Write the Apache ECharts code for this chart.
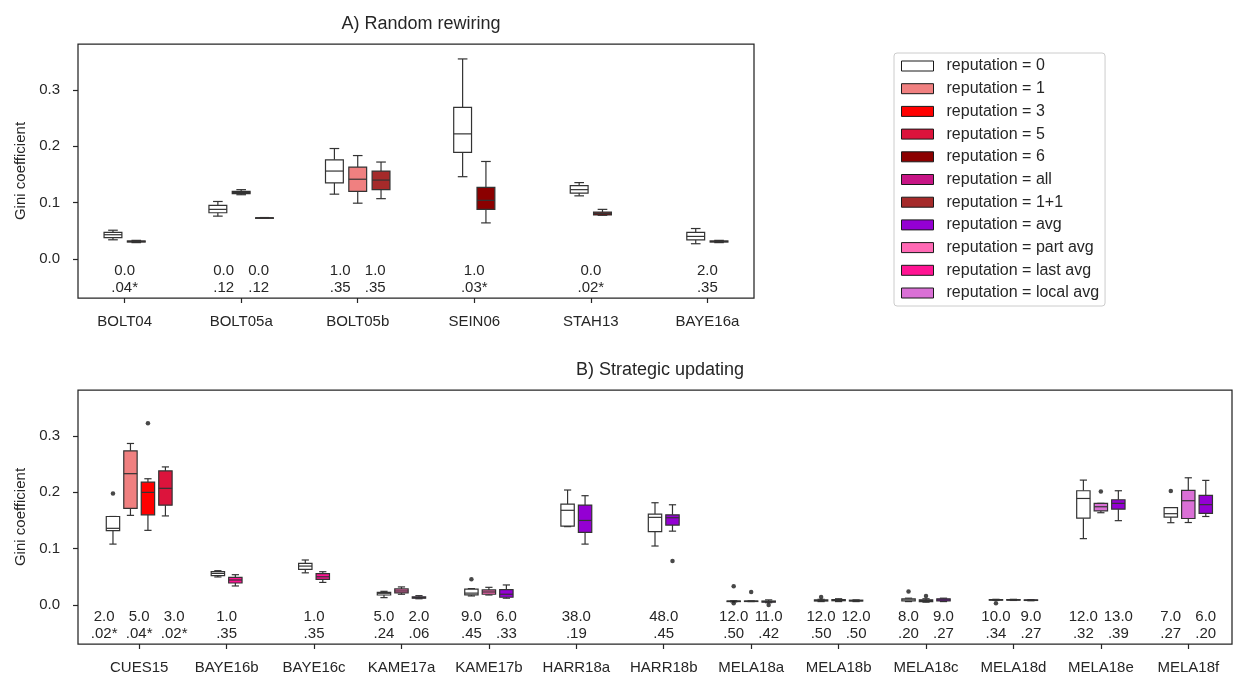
<!DOCTYPE html>
<html>
<head>
<meta charset="utf-8">
<script src="https://cdn.jsdelivr.net/npm/echarts@6/dist/echarts.min.js"></script>
<style>
html,body{margin:0;padding:0;background:#fff;}
#chart{width:1234px;height:675px;}
</style>
</head>
<body>
<div id="chart"></div>
<script>
// ---------------- DATA ----------------
const topCategories = ['BOLT04','BOLT05a','BOLT05b','SEIN06','STAH13','BAYE16a'];
const bottomCategories = ['CUES15','BAYE16b','BAYE16c','KAME17a','KAME17b','HARR18a','HARR18b',
  'MELA18a','MELA18b','MELA18c','MELA18d','MELA18e','MELA18f'];
const reputations = ['0','1','3','5','6','all','1+1','avg','part avg','last avg','local avg'];
const repColors = ['#ffffff','#f08080','#ff0000','#dc143c','#8b0000','#c71585','#a52a2a','#9400d3','#ff69b4','#ff1493','#da70d6'];
const yTicks = [0, 0.1, 0.2, 0.3];

// [category, reputation, whisker low, q1, median, q3, whisker high]
const topBoxes = [
  ['BOLT04','0',0.034,0.038,0.043,0.047,0.051],
  ['BOLT04','6',0.029,0.030,0.031,0.032,0.033],
  ['BOLT05a','0',0.076,0.082,0.088,0.095,0.102],
  ['BOLT05a','6',0.114,0.116,0.118,0.120,0.123],
  ['BOLT05a','3',0.0725,0.073,0.073,0.073,0.0735],
  ['BOLT05b','0',0.115,0.135,0.156,0.176,0.196],
  ['BOLT05b','1',0.099,0.120,0.1415,0.163,0.1835],
  ['BOLT05b','1+1',0.107,0.123,0.140,0.156,0.172],
  ['SEIN06','0',0.146,0.189,0.222,0.269,0.355],
  ['SEIN06','6',0.064,0.088,0.104,0.127,0.173],
  ['STAH13','0',0.112,0.117,0.123,0.130,0.1355],
  ['STAH13','6',0.0775,0.078,0.0805,0.083,0.088],
  ['BAYE16a','0',0.027,0.034,0.040,0.047,0.054],
  ['BAYE16a','6',0.029,0.030,0.031,0.032,0.033]
];
const bottomBoxes = [
  ['CUES15','0',0.108,0.132,0.136,0.157,0.157],
  ['CUES15','1',0.159,0.1714,0.233,0.2736,0.2866],
  ['CUES15','3',0.1324,0.160,0.1998,0.218,0.224],
  ['CUES15','5',0.158,0.177,0.207,0.238,0.245],
  ['BAYE16b','0',0.0497,0.052,0.056,0.059,0.0608],
  ['BAYE16b','last avg',0.0337,0.039,0.0443,0.049,0.0537],
  ['BAYE16c','0',0.057,0.063,0.069,0.0739,0.0798],
  ['BAYE16c','last avg',0.040,0.0455,0.050,0.0556,0.059],
  ['KAME17a','0',0.013,0.0177,0.0207,0.0225,0.0242],
  ['KAME17a','part avg',0.019,0.0213,0.0248,0.0284,0.032],
  ['KAME17a','avg',0.011,0.012,0.013,0.0145,0.0165],
  ['KAME17b','0',0.016,0.018,0.021,0.028,0.029],
  ['KAME17b','part avg',0.0177,0.019,0.023,0.0266,0.0313],
  ['KAME17b','avg',0.012,0.0137,0.019,0.0271,0.0355],
  ['HARR18a','0',0.139,0.140,0.168,0.179,0.204],
  ['HARR18a','avg',0.108,0.1288,0.150,0.1773,0.1939],
  ['HARR18b','0',0.1046,0.130,0.1555,0.1613,0.1814],
  ['HARR18b','avg',0.131,0.1418,0.1548,0.160,0.1778],
  ['MELA18a','0',0.0055,0.006,0.0065,0.007,0.0075],
  ['MELA18a','local avg',0.006,0.0063,0.0066,0.007,0.0072],
  ['MELA18a','avg',0.004,0.005,0.006,0.007,0.009],
  ['MELA18b','0',0.006,0.007,0.008,0.009,0.010],
  ['MELA18b','local avg',0.006,0.0075,0.0085,0.0095,0.011],
  ['MELA18b','avg',0.006,0.007,0.0075,0.0085,0.009],
  ['MELA18c','0',0.006,0.007,0.009,0.011,0.012],
  ['MELA18c','local avg',0.005,0.006,0.008,0.009,0.011],
  ['MELA18c','avg',0.006,0.007,0.009,0.011,0.012],
  ['MELA18d','0',0.008,0.0085,0.009,0.0095,0.010],
  ['MELA18d','local avg',0.008,0.0085,0.009,0.0095,0.010],
  ['MELA18d','avg',0.0075,0.008,0.0085,0.009,0.0095],
  ['MELA18e','0',0.1177,0.154,0.189,0.2027,0.2216],
  ['MELA18e','local avg',0.1637,0.167,0.1743,0.1803,0.1803],
  ['MELA18e','avg',0.1496,0.170,0.1803,0.1867,0.2027],
  ['MELA18f','0',0.146,0.156,0.162,0.1726,0.1726],
  ['MELA18f','local avg',0.1463,0.1534,0.185,0.2034,0.2257],
  ['MELA18f','avg',0.157,0.1626,0.178,0.1945,0.2211]
];
// [category, reputation, value]
const topOutliers = [];
const bottomOutliers = [
  ['CUES15','0',0.198],
  ['CUES15','3',0.3227],
  ['KAME17b','0',0.0455],
  ['HARR18b','avg',0.078],
  ['MELA18a','0',0.033],
  ['MELA18a','0',0.003],
  ['MELA18a','local avg',0.023],
  ['MELA18a','avg',0.0],
  ['MELA18b','0',0.014],
  ['MELA18c','0',0.024],
  ['MELA18c','local avg',0.016],
  ['MELA18d','0',0.003],
  ['MELA18e','local avg',0.2015],
  ['MELA18f','0',0.2021]
];
// test statistics printed under each study (upper line, lower line)
const topStatsUpper = [['0.0'],['0.0','0.0'],['1.0','1.0'],['1.0'],['0.0'],['2.0']];
const topStatsLower = [['.04*'],['.12','.12'],['.35','.35'],['.03*'],['.02*'],['.35']];
const bottomStatsUpper = [['2.0','5.0','3.0'],['1.0'],['1.0'],['5.0','2.0'],['9.0','6.0'],['38.0'],['48.0'],
  ['12.0','11.0'],['12.0','12.0'],['8.0','9.0'],['10.0','9.0'],['12.0','13.0'],['7.0','6.0']];
const bottomStatsLower = [['.02*','.04*','.02*'],['.35'],['.35'],['.24','.06'],['.45','.33'],['.19'],['.45'],
  ['.50','.42'],['.50','.50'],['.20','.27'],['.34','.27'],['.32','.39'],['.27','.20']];

// ---------------- STYLE ----------------
const FONT = '"Liberation Sans", Arial, sans-serif';
const TXT = '#262626';
const EDGE = '#333333';
const SLOT = 0.2, BOXW = 0.153;

function place(boxes, cats) {
  const counts = {}, seen = {};
  boxes.forEach(b => counts[b[0]] = (counts[b[0]] || 0) + 1);
  return boxes.map(b => {
    const k = seen[b[0]] = (seen[b[0]] === undefined ? 0 : seen[b[0]] + 1);
    const n = counts[b[0]];
    return { cat: b[0], rep: b[1], x: cats.indexOf(b[0]) + (k - (n - 1) / 2) * SLOT, vals: b.slice(2) };
  });
}

function renderBox(params, api) {
  const x = api.value(0);
  const lo = api.coord([x, api.value(1)]);
  const q1 = api.coord([x, api.value(2)]);
  const md = api.coord([x, api.value(3)]);
  const q3 = api.coord([x, api.value(4)]);
  const hi = api.coord([x, api.value(5)]);
  const w = api.size([BOXW, 0])[0];
  const cx = lo[0];
  const cw = w * 0.27;
  const ls = { stroke: EDGE, lineWidth: 1.2 };
  return {
    type: 'group',
    children: [
      { type: 'line', shape: { x1: cx, y1: q1[1], x2: cx, y2: lo[1] }, style: ls },
      { type: 'line', shape: { x1: cx, y1: q3[1], x2: cx, y2: hi[1] }, style: ls },
      { type: 'line', shape: { x1: cx - cw, y1: lo[1], x2: cx + cw, y2: lo[1] }, style: ls },
      { type: 'line', shape: { x1: cx - cw, y1: hi[1], x2: cx + cw, y2: hi[1] }, style: ls },
      { type: 'rect', shape: { x: cx - w / 2, y: q3[1], width: w, height: Math.max(q1[1] - q3[1], 0.5) },
        style: { fill: api.visual('color'), stroke: EDGE, lineWidth: 1.2 } },
      { type: 'line', shape: { x1: cx - w / 2, y1: md[1], x2: cx + w / 2, y2: md[1] }, style: ls }
    ]
  };
}

function statsRenderer(upper, lower) {
  return function (params, api) {
    const i = api.value(0);
    const base = api.coord([i, 0]);
    const children = [];
    const m = upper[i].length;
    for (let k = 0; k < m; k++) {
      const dx = (k - (m - 1) / 2) * 35;
      children.push({ type: 'text', style: { x: base[0] + dx, y: base[1] + 11.5, text: upper[i][k],
        fill: TXT, fontSize: 15, fontFamily: FONT, align: 'center', verticalAlign: 'middle' } });
      children.push({ type: 'text', style: { x: base[0] + dx, y: base[1] + 28.5, text: lower[i][k],
        fill: TXT, fontSize: 15, fontFamily: FONT, align: 'center', verticalAlign: 'middle' } });
    }
    return { type: 'group', children };
  };
}

const panels = [
  { cats: topCategories, boxes: place(topBoxes, topCategories), outliers: topOutliers,
    up: topStatsUpper, low: topStatsLower, min: -0.4, max: 5.4 },
  { cats: bottomCategories, boxes: place(bottomBoxes, bottomCategories), outliers: bottomOutliers,
    up: bottomStatsUpper, low: bottomStatsLower, min: -0.7, max: 12.5 }
];

const series = [];
panels.forEach((p, pi) => {
  reputations.forEach((r, ri) => {
    const items = p.boxes.filter(b => b.rep === r);
    if (pi === 1 && items.length === 0) return;
    series.push({
      type: 'custom', name: 'reputation = ' + r, xAxisIndex: pi, yAxisIndex: pi,
      itemStyle: { color: repColors[ri], borderColor: EDGE, borderWidth: 1 },
      renderItem: renderBox, silent: true,
      data: items.map(b => [b.x].concat(b.vals))
    });
  });
  series.push({
    type: 'scatter', name: 'outliers' + pi, xAxisIndex: pi, yAxisIndex: pi, silent: true,
    symbolSize: 4.5, itemStyle: { color: '#1a1a1a' },
    data: p.outliers.map(o => {
      const b = p.boxes.find(bb => bb.cat === o[0] && bb.rep === o[1]);
      return [b.x, o[2]];
    })
  });
  series.push({
    type: 'custom', name: 'stats' + pi, xAxisIndex: pi, yAxisIndex: pi, silent: true,
    renderItem: statsRenderer(p.up, p.low),
    data: p.cats.map((c, i) => [i, 0])
  });
});

const grids = [
  { left: 78, top: 44, width: 676, height: 254 },
  { left: 78, top: 390, width: 1154, height: 254 }
].map(g => Object.assign(g, { show: true, borderColor: TXT, borderWidth: 1.25, backgroundColor: 'transparent' }));

const xAxes = panels.map((p, pi) => ({
  type: 'value', gridIndex: pi, min: p.min, max: p.max, position: 'bottom',
  splitLine: { show: false }, axisLine: { show: false, onZero: false },
  axisTick: { show: true, length: 5, customValues: p.cats.map((c, i) => i), lineStyle: { color: TXT, width: 1.2 } },
  axisLabel: { customValues: p.cats.map((c, i) => i), formatter: v => p.cats[Math.round(v)],
    color: TXT, fontSize: 15, fontFamily: FONT, margin: 16 }
}));
const yAxes = panels.map((p, pi) => ({
  type: 'value', gridIndex: pi, min: -0.0693, max: 0.3815, position: 'left',
  name: 'Gini coefficient', nameLocation: 'middle', nameGap: 48, nameRotate: 90,
  nameTextStyle: { color: TXT, fontSize: 15, fontFamily: FONT },
  splitLine: { show: false }, axisLine: { show: false, onZero: false },
  axisTick: { show: true, length: 5, customValues: yTicks, lineStyle: { color: TXT, width: 1.2 } },
  axisLabel: { customValues: yTicks, formatter: v => v.toFixed(1), color: TXT, fontSize: 15, fontFamily: FONT, margin: 18 }
}));

const option = {
  animation: false,
  backgroundColor: '#ffffff',
  title: [
    { text: 'A) Random rewiring', left: 416, top: 10, textAlign: 'center',
      textStyle: { color: TXT, fontSize: 18, fontWeight: 'normal', fontFamily: FONT } },
    { text: 'B) Strategic updating', left: 655, top: 356, textAlign: 'center',
      textStyle: { color: TXT, fontSize: 18, fontWeight: 'normal', fontFamily: FONT } }
  ],
  legend: {
    orient: 'vertical', left: 894, top: 53, icon: 'rect',
    itemWidth: 32, itemHeight: 10, itemGap: 6.7,
    padding: [5, 6, 5, 7],
    borderColor: '#cccccc', borderWidth: 1, borderRadius: 3,
    selectedMode: false,
    textStyle: { color: TXT, fontSize: 16, fontFamily: FONT, lineHeight: 16, padding: [0, 0, 0, 8] },
    data: reputations.map((r, i) => ({ name: 'reputation = ' + r,
      itemStyle: { color: repColors[i], borderColor: '#1a1a1a', borderWidth: 1 } }))
  },
  grid: grids,
  xAxis: xAxes,
  yAxis: yAxes,
  series: series
};

const chart = echarts.init(document.getElementById('chart'), null, { renderer: 'canvas' });
chart.setOption(option);
</script>
</body>
</html>
